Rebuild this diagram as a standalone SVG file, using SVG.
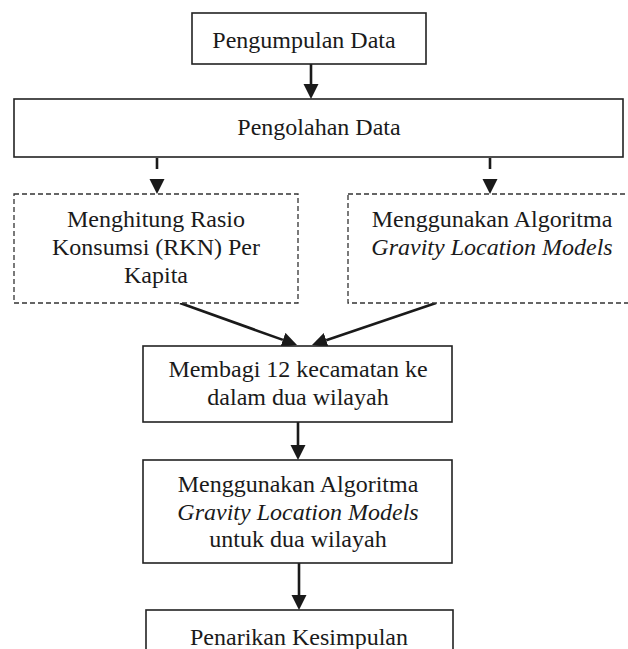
<svg xmlns="http://www.w3.org/2000/svg" width="628" height="649" viewBox="0 0 628 649">
<style>
.box{fill:#fff;stroke:#222;stroke-width:1.6}
.dbox{fill:#fff;stroke:#333;stroke-width:1.3;stroke-dasharray:5 3}
.t{font-family:"Liberation Serif","Times New Roman",serif;font-size:24px;fill:#1a1a1a;text-anchor:middle}
.i{font-style:italic}
.a{stroke:#1a1a1a;stroke-width:2.6;fill:none;marker-end:url(#ah)}
.ad{stroke-dasharray:11 10}
</style>
<defs>
<marker id="ah" markerUnits="userSpaceOnUse" markerWidth="15" markerHeight="16" viewBox="0 -8 15 16" refX="0" refY="0" orient="auto">
<path d="M0,-7.5 L15,0 L0,7.5 z" fill="#1a1a1a"/>
</marker>
</defs>
<g id="connectors">
<line class="a" x1="311" y1="64" x2="311" y2="84"/>
<line class="a ad" x1="157" y1="158" x2="157" y2="179"/>
<line class="a ad" x1="490" y1="158" x2="490" y2="179"/>
<line class="a" x1="180" y1="303" x2="282.9" y2="339.9"/>
<line class="a" x1="436" y1="303" x2="326.2" y2="340.2"/>
<line class="a" x1="298" y1="422" x2="298" y2="445"/>
<line class="a" x1="299" y1="563" x2="299" y2="595"/>
</g>
<g id="pengumpulan">
<rect class="box" x="192" y="13" width="234" height="51"/>
<text class="t" x="304" y="48">Pengumpulan Data</text>
</g>
<g id="pengolahan">
<rect class="box" x="14" y="99" width="609" height="58"/>
<text class="t" x="319" y="135">Pengolahan Data</text>
</g>
<g id="rasio">
<rect class="dbox" x="14" y="194" width="284" height="109"/>
<text class="t" x="156" y="227">Menghitung Rasio</text>
<text class="t" x="156" y="255">Konsumsi (RKN) Per</text>
<text class="t" x="156" y="283">Kapita</text>
</g>
<g id="gravity1">
<rect class="dbox" x="348" y="194" width="290" height="109"/>
<text class="t" x="492" y="227">Menggunakan Algoritma</text>
<text class="t i" x="492" y="255">Gravity Location Models</text>
</g>
<g id="membagi">
<rect class="box" x="143" y="346" width="309" height="76"/>
<text class="t" x="298" y="377">Membagi 12 kecamatan ke</text>
<text class="t" x="298" y="405">dalam dua wilayah</text>
</g>
<g id="gravity2">
<rect class="box" x="143" y="460" width="309" height="103"/>
<text class="t" x="298" y="492">Menggunakan Algoritma</text>
<text class="t i" x="298" y="520">Gravity Location Models</text>
<text class="t" x="298" y="547">untuk dua wilayah</text>
</g>
<g id="kesimpulan">
<rect class="box" x="146" y="610" width="307" height="60"/>
<text class="t" x="299" y="645">Penarikan Kesimpulan</text>
</g>
</svg>
